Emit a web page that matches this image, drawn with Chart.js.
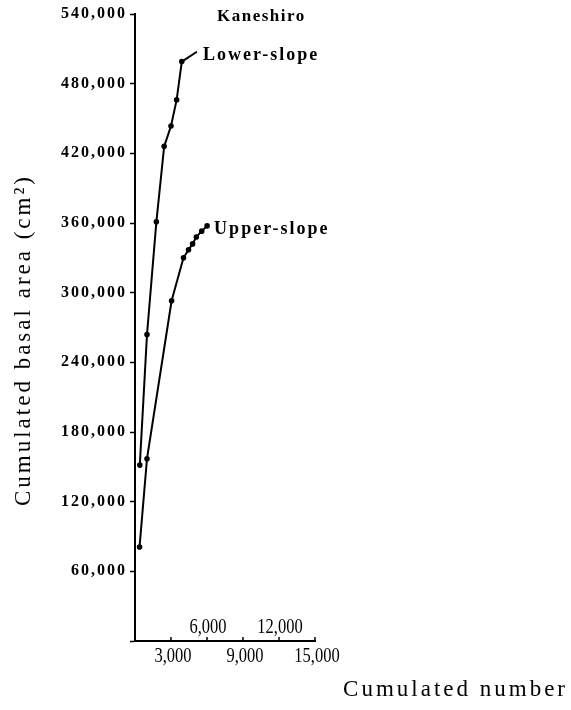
<!DOCTYPE html>
<html>
<head>
<meta charset="utf-8">
<script src="https://cdn.jsdelivr.net/npm/chart.js@4.4.1/dist/chart.umd.min.js"></script>
<style>
  html, body { margin: 0; padding: 0; background: #fff; }
  #wrap { width: 571px; height: 710px; position: relative; }
</style>
</head>
<body>
<div id="wrap"><canvas id="chartJsCanvas"></canvas></div>
<script>
// values (Kaneshiro)
const lowerX = [400, 1000, 1780, 2430, 3000, 3470, 3900, 5160];
const lowerY = [151500, 264000, 361000, 426000, 443500, 466000, 499000, 507500];
const upperX = [380, 1000, 3050, 4040, 4460, 4800, 5110, 5560, 6010];
const upperY = [81000, 157000, 293000, 330000, 337000, 342000, 348000, 353000, 357500];

const xTicksBelow = [3000, 9000, 15000];
const xTicksAbove = [6000, 12000];
const seriesNames = ["Lower-slope", "Upper-slope"];

const SERIF = "'Liberation Serif', 'DejaVu Serif', serif";
const fmt = v => v.toLocaleString('en-US');

function pts(xs, ys) { return xs.map((x, i) => ({ x: x, y: ys[i] })); }

// last lower point is only the bend of the leader to the label
const lowerRadius = lowerX.map((_, i) => i === lowerX.length - 1 ? 0 : 1.8);

const decor = {
  id: 'decor',
  beforeDraw(chart) {
    chart.ctx.letterSpacing = '2px';
  },
  afterDraw(chart) {
    const ctx = chart.ctx;
    const xs = chart.scales.x, ys = chart.scales.y;
    const bottom = chart.chartArea.bottom;
    ctx.save();
    ctx.fillStyle = '#000';
    ctx.strokeStyle = '#000';

    // small ticks pointing up from the x axis
    ctx.lineWidth = 1.5;
    [...xTicksBelow, ...xTicksAbove].forEach(v => {
      const px = xs.getPixelForValue(v);
      ctx.beginPath();
      ctx.moveTo(px, bottom);
      ctx.lineTo(px, bottom - 4);
      ctx.stroke();
    });

    // staggered x labels, condensed
    ctx.letterSpacing = '0px';
    ctx.font = "22px " + SERIF;
    ctx.textAlign = 'center';
    ctx.textBaseline = 'alphabetic';
    const drawCond = (txt, px, py) => {
      ctx.save();
      ctx.translate(px, py);
      ctx.scale(0.75, 1);
      ctx.fillText(txt, 0, 0);
      ctx.restore();
    };
    xTicksBelow.forEach(v => drawCond(fmt(v), xs.getPixelForValue(v) + 2, bottom + 21));
    xTicksAbove.forEach(v => drawCond(fmt(v), xs.getPixelForValue(v) + 1, bottom - 8));

    // series labels at line ends
    ctx.textAlign = 'left';
    ctx.font = "bold 18px " + SERIF;
    ctx.letterSpacing = '2px';
    const lx = xs.getPixelForValue(lowerX[lowerX.length - 1]);
    const ly = ys.getPixelForValue(lowerY[lowerY.length - 1]);
    ctx.fillText(seriesNames[0], lx + 6, ly + 8);
    const ux = xs.getPixelForValue(upperX[upperX.length - 1]);
    const uy = ys.getPixelForValue(upperY[upperY.length - 1]);
    ctx.fillText(seriesNames[1], ux + 7, uy + 8);

    // site name
    ctx.font = "bold 17px " + SERIF;
    ctx.letterSpacing = '1.5px';
    ctx.fillText('Kaneshiro', 217, 21);

    // axis titles
    ctx.font = "23px " + SERIF;
    ctx.letterSpacing = '3px';
    ctx.textAlign = 'right';
    ctx.fillText('Cumulated number', 568, 696);

    ctx.save();
    ctx.translate(30, 340);
    ctx.rotate(-Math.PI / 2);
    ctx.textAlign = 'center';
    ctx.fillText('Cumulated basal area (cm²)', 0, 0);
    ctx.restore();

    ctx.restore();
  }
};

new Chart(document.getElementById("chartJsCanvas"), {
  type: 'scatter',
  data: {
    datasets: [
      {
        label: seriesNames[0],
        data: pts(lowerX, lowerY),
        showLine: true,
        borderColor: '#000',
        backgroundColor: '#000',
        borderWidth: 2,
        pointRadius: lowerRadius,
        pointHoverRadius: 0
      },
      {
        label: seriesNames[1],
        data: pts(upperX, upperY),
        showLine: true,
        borderColor: '#000',
        backgroundColor: '#000',
        borderWidth: 2,
        pointRadius: 1.8,
        pointHoverRadius: 0
      }
    ]
  },
  options: {
    responsive: true,
    maintainAspectRatio: false,
    animation: false,
    layout: { padding: { top: 14, right: 256, left: 0, bottom: 0 } },
    plugins: {
      legend: { display: false },
      title: { display: false },
      tooltip: { enabled: false }
    },
    scales: {
      x: {
        type: 'linear',
        min: 0,
        max: 15000,
        ticks: { stepSize: 3000, callback: () => '' },
        grid: { drawOnChartArea: false, drawTicks: false },
        border: { color: '#000', width: 2 },
        afterFit: s => { s.height = 69; }
      },
      y: {
        min: 0,
        max: 540000,
        ticks: {
          stepSize: 60000,
          padding: 3,
          color: '#000',
          font: { family: SERIF, size: 16, weight: 'bold' },
          callback: v => v === 0 ? '' : fmt(v)
        },
        grid: { drawOnChartArea: false, color: '#000', tickLength: 5, tickWidth: 1.5 },
        border: { color: '#000', width: 2 },
        afterFit: s => { s.width = 135; }
      }
    }
  },
  plugins: [decor]
});
</script>
</body>
</html>
